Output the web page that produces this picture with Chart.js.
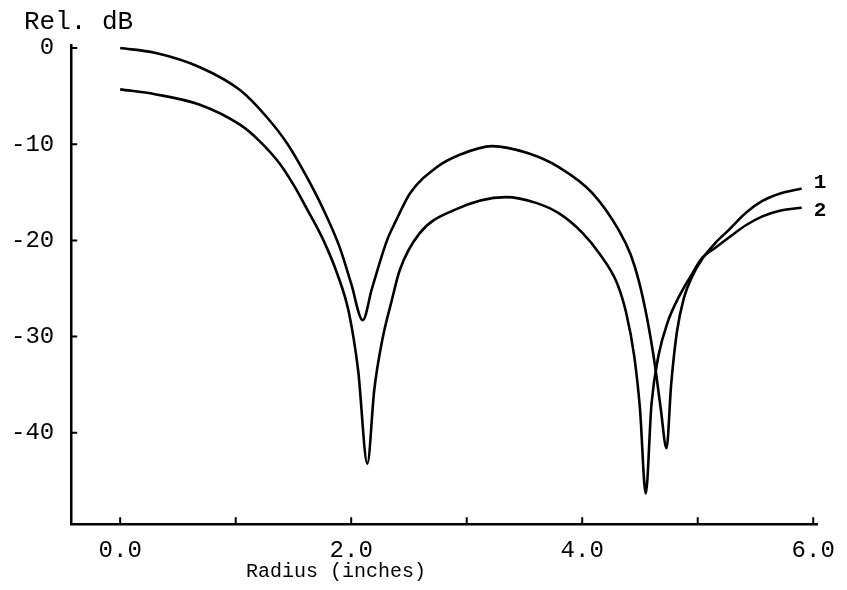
<!DOCTYPE html>
<html>
<head>
<meta charset="utf-8">
<script src="https://cdn.jsdelivr.net/npm/chart.js@4/dist/chart.umd.min.js"></script>
<style>
  html, body { margin: 0; padding: 0; background: #fff; }
  #wrap { width: 847px; height: 590px; }
</style>
</head>
<body>
<div id="wrap"><canvas id="chart" width="847" height="590"></canvas></div>
<script>
// Radius (inches) and relative level (dB)
const radius1 = [0.0, 0.3, 0.69, 1.04, 1.27, 1.45, 1.62, 1.76, 1.90, 2.00, 2.10, 2.18, 2.31, 2.39, 2.51, 2.74, 2.94, 3.22, 3.52, 3.80, 4.09, 4.32, 4.42, 4.49, 4.56, 4.63, 4.68, 4.73, 4.77, 4.82, 4.88, 4.95, 5.04, 5.15, 5.27, 5.42, 5.56, 5.72, 5.90];
const level1  = [0.0, -0.5, -2.0, -4.4, -7.2, -10.0, -13.5, -16.8, -20.7, -24.5, -28.3, -25.0, -20.0, -17.9, -15.1, -12.4, -11.1, -10.2, -10.9, -12.4, -15.1, -19.0, -21.5, -24.2, -28.0, -33.0, -37.5, -41.6, -35.0, -29.5, -26.0, -23.8, -21.9, -20.3, -18.9, -17.1, -15.9, -15.1, -14.6];

const radius2 = [0.0, 0.3, 0.69, 1.04, 1.20, 1.38, 1.50, 1.62, 1.76, 1.88, 1.98, 2.06, 2.14, 2.20, 2.27, 2.35, 2.42, 2.59, 2.88, 3.34, 3.60, 3.80, 4.00, 4.15, 4.30, 4.38, 4.45, 4.50, 4.55, 4.60, 4.66, 4.74, 4.84, 4.95, 5.04, 5.15, 5.27, 5.42, 5.56, 5.72, 5.90];
const level2  = [-4.3, -4.8, -5.9, -8.0, -9.6, -12.0, -14.2, -16.8, -20.0, -23.5, -27.5, -33.5, -43.2, -35.5, -30.3, -26.3, -23.1, -19.3, -16.9, -15.5, -16.1, -17.2, -19.2, -21.4, -24.4, -27.5, -32.0, -37.5, -46.3, -37.0, -32.0, -28.5, -25.8, -23.5, -21.8, -20.8, -19.7, -18.4, -17.5, -16.9, -16.6];

const seriesNames = ['1', '2'];
const xTicks = [0, 1, 2, 3, 4, 5, 6];
const xLabelTicks = [0, 2, 4, 6];
const yTicks = [0, -10, -20, -30, -40];

const FONT = '"Liberation Mono", "DejaVu Sans Mono", monospace';

function toPoints(xs, ys) {
    return xs.map((x, i) => ({ x: x, y: ys[i] }));
}

// short inward tick marks, axis captions and curve numbers
const decorations = {
    id: 'decorations',
    afterDraw(chart) {
        const { ctx, chartArea, scales } = chart;
        const x = scales.x, y = scales.y;
        ctx.save();
        ctx.strokeStyle = '#000';
        ctx.lineWidth = 2;
        ctx.beginPath();
        xTicks.forEach(v => {
            const px = x.getPixelForValue(v);
            ctx.moveTo(px, chartArea.bottom);
            ctx.lineTo(px, chartArea.bottom - 7);
        });
        yTicks.forEach(v => {
            const py = y.getPixelForValue(v);
            ctx.moveTo(chartArea.left, py);
            ctx.lineTo(chartArea.left + 6, py);
        });
        ctx.stroke();

        ctx.fillStyle = '#000';
        ctx.font = '26px ' + FONT;
        ctx.textBaseline = 'alphabetic';
        ctx.textAlign = 'left';
        ctx.fillText('Rel. dB', 24, 29);

        ctx.font = '20px ' + FONT;
        ctx.textAlign = 'center';
        ctx.fillText('Radius (inches)', 336, 577);

        ctx.font = 'bold 21px ' + FONT;
        ctx.textAlign = 'left';
        ctx.textBaseline = 'middle';
        const offsets = [-6, 3];
        chart.data.datasets.forEach((ds, i) => {
            const meta = chart.getDatasetMeta(i);
            const last = meta.data[meta.data.length - 1];
            ctx.fillText(seriesNames[i], last.x + 12, last.y + offsets[i]);
        });
        ctx.restore();
    }
};

new Chart(document.getElementById('chart').getContext('2d'), {
    type: 'line',
    data: {
        datasets: [
            { label: seriesNames[0], data: toPoints(radius1, level1) },
            { label: seriesNames[1], data: toPoints(radius2, level2) }
        ]
    },
    options: {
        responsive: false,
        animation: false,
        layout: { padding: { top: 45, right: 28, bottom: 13, left: -6 } },
        elements: {
            line: { borderColor: '#000', borderWidth: 2.6, cubicInterpolationMode: 'monotone', fill: false },
            point: { radius: 0 }
        },
        plugins: {
            legend: { display: false },
            tooltip: { enabled: false }
        },
        scales: {
            x: {
                type: 'linear',
                min: -0.424,
                max: 6.04,
                afterBuildTicks: scale => { scale.ticks = xTicks.map(v => ({ value: v })); },
                grid: { display: false, drawTicks: false },
                border: { display: true, color: '#000', width: 2.5 },
                ticks: {
                    color: '#000',
                    padding: 12,
                    maxRotation: 0,
                    autoSkip: false,
                    font: { family: FONT, size: 24 },
                    callback: v => xLabelTicks.includes(v) ? v.toFixed(1) : ''
                }
            },
            y: {
                type: 'linear',
                min: -49.5,
                max: 0.31,
                afterBuildTicks: scale => { scale.ticks = yTicks.map(v => ({ value: v })); },
                grid: { display: false, drawTicks: false },
                border: { display: true, color: '#000', width: 2.5 },
                ticks: {
                    color: '#000',
                    padding: 17,
                    font: { family: FONT, size: 24 },
                    callback: v => String(v)
                }
            }
        }
    },
    plugins: [decorations]
});
</script>
</body>
</html>
